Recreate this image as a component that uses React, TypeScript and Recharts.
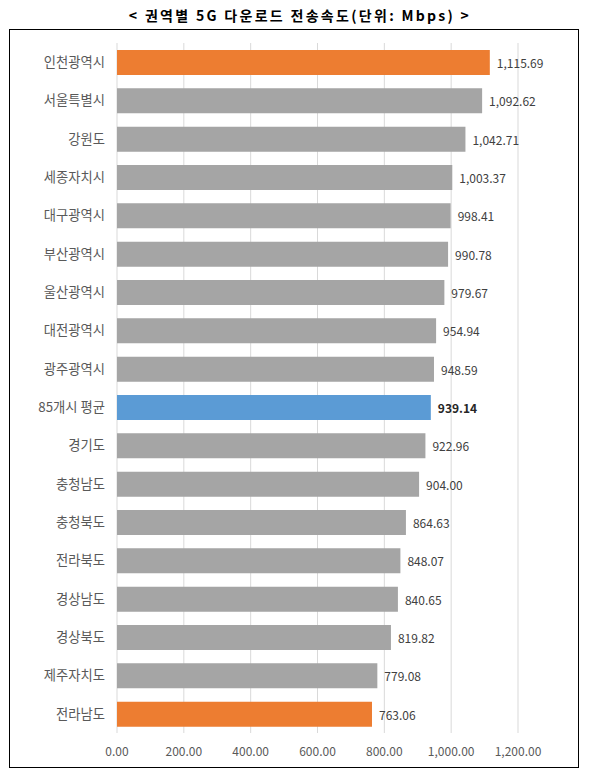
import React from 'react';
import { BarChart, Bar, XAxis, YAxis, CartesianGrid, Cell, LabelList } from 'recharts';

const categories = [
  '인천광역시', '서울특별시', '강원도', '세종자치시', '대구광역시', '부산광역시',
  '울산광역시', '대전광역시', '광주광역시', '85개시 평균', '경기도', '충청남도',
  '충청북도', '전라북도', '경상남도', '경상북도', '제주자치도', '전라남도',
];
const speeds = [
  1115.69, 1092.62, 1042.71, 1003.37, 998.41, 990.78,
  979.67, 954.94, 948.59, 939.14, 922.96, 904.0,
  864.63, 848.07, 840.65, 819.82, 779.08, 763.06,
];
const xTicks = [0, 200, 400, 600, 800, 1000, 1200];
const averageCategory = '85개시 평균';
const title = '< 권역별 5G 다운로드 전송속도(단위: Mbps) >';

const data = categories.map((name, i) => ({ name, value: speeds[i] }));
const maxV = Math.max(...speeds);
const minV = Math.min(...speeds);

const fmt = (v: number) =>
  v.toLocaleString('en-US', { minimumFractionDigits: 2, maximumFractionDigits: 2 });

const FONT = '"Noto Sans CJK KR", "Noto Sans", sans-serif';

const colorFor = (d: { name: string; value: number }) => {
  if (d.name === averageCategory) return '#5B9BD5';
  if (d.value === maxV || d.value === minV) return '#ED7D31';
  return '#A5A5A5';
};

const ValueLabel = (props: any) => {
  const { x, y, width, height, value, index } = props;
  const isAvg = categories[index] === averageCategory;
  return (
    <text
      x={Number(x) + Number(width) + 7}
      y={Number(y) + Number(height) / 2}
      dominantBaseline="central"
      fontSize={12}
      fontFamily={FONT}
      fill={isAvg ? '#262626' : '#404040'}
      fontWeight={isAvg ? 700 : 400}
    >
      {fmt(Number(value))}
    </text>
  );
};

export default function App() {
  return (
    <div style={{ position: 'absolute', left: 0, top: 0, width: 589, height: 774, background: '#fff' }}>
      <div
        style={{
          position: 'absolute',
          left: 0,
          top: 4,
          width: 600,
          textAlign: 'center',
          fontFamily: FONT,
          fontWeight: 700,
          fontSize: 14,
          letterSpacing: 2.3,
          lineHeight: '22px',
          color: '#000',
        }}
      >
        {title}
      </div>
      <div
        style={{
          position: 'absolute',
          left: 9,
          top: 29,
          width: 570,
          height: 739,
          boxSizing: 'border-box',
          border: '1px solid #000',
        }}
      >
        <BarChart
          width={568}
          height={737}
          data={data}
          layout="vertical"
          margin={{ top: 13, right: 60, bottom: 4, left: 0 }}
          barCategoryGap={13}
        >
          <CartesianGrid horizontal={false} stroke="#D9D9D9" />
          <XAxis
            type="number"
            domain={[0, 1200]}
            ticks={xTicks}
            tickFormatter={(v: number) => fmt(v)}
            axisLine={false}
            tickLine={false}
            tickMargin={8}
            height={30}
            interval={0}
            tick={{ fontSize: 12, fill: '#595959', fontFamily: FONT }}
          />
          <YAxis
            type="category"
            dataKey="name"
            width={107}
            axisLine={false}
            tickLine={false}
            tickMargin={6}
            interval={0}
            tick={{ fontSize: 13.3, fill: '#595959', fontFamily: FONT }}
          />
          <Bar dataKey="value" isAnimationActive={false} barSize={25}>
            {data.map((d, i) => (
              <Cell key={i} fill={colorFor(d)} />
            ))}
            <LabelList dataKey="value" content={<ValueLabel />} />
          </Bar>
        </BarChart>
      </div>
    </div>
  );
}
